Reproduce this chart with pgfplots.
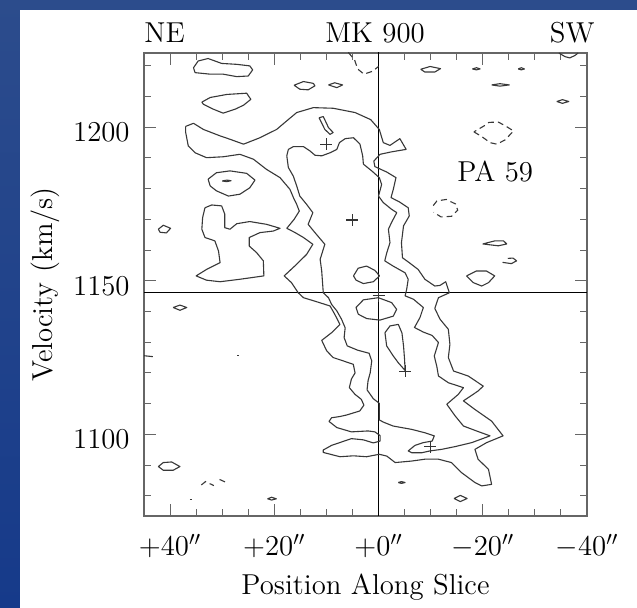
\documentclass[border=0pt]{standalone}
\usepackage{pgfplots}
\pgfplotsset{compat=1.18}
\pgfplotsset{cont/.style={black!78, line width=0.55pt, line join=round},
  dcont/.style={black!78, line width=0.55pt, dash pattern=on 3pt off 2pt}}
\begin{document}
\begin{tikzpicture}
\useasboundingbox (0,0) rectangle (318.5pt,304pt);
\shade[top color={rgb,255:red,44;green,76;blue,140}, bottom color={rgb,255:red,22;green,58;blue,138}] (0,0) rectangle (318.5pt,304pt);
\fill[white] (10pt,0) rectangle (318.5pt,299pt);
\begin{axis}[name=ax, at={(72pt,46pt)}, anchor=south west, scale only axis,
  width=221.5pt, height=231.5pt, clip=false,
  x dir=reverse, xmin=-40, xmax=45, ymin=1073.4, ymax=1224.2,
  xtick={-40,-20,0,20,40}, xticklabels={$-40''$,$-20''$,$+0''$,$+20''$,$+40''$},
  minor xtick={-35,-30,-25,-15,-10,-5,5,10,15,25,30,35},
  ytick={1100,1150,1200}, yticklabels={1100,1150,1200}, scaled y ticks=false,
  minor ytick={1080,1090,1110,1120,1130,1140,1160,1170,1180,1190,1210,1220},
  tick align=inside, major tick length=6pt, minor tick length=3.5pt,
  xtick pos=both, ytick pos=both, xticklabel pos=lower, yticklabel pos=left,
  tick style={black!60, line width=0.5pt},
  axis line style={black!60, line width=0.6pt},
  tick label style={font=\fontsize{14.4}{17}\selectfont, inner sep=0pt},
  xticklabel style={anchor=base, yshift=-20pt},
  yticklabel style={anchor=east, xshift=-7pt, yshift=-2.5pt},
]
% reference lines
\addplot[black, line width=0.6pt] coordinates {(-40,1146.1) (45,1146.1)};
\addplot[black, line width=0.6pt] coordinates {(0,1073.4) (0,1224.6)};
% outer contour
\addplot[cont] coordinates {(37.0,1200.3) (35.5,1201.3) (33.6,1199.3) (30.4,1197.2) (28.5,1196.1) (25.9,1194.5) (22.75,1196.6) (19.55,1199.3) (17.6,1202.1) (15.7,1204.8) (12.5,1206.4) (8.7,1206.2) (4.5,1204.8) (1.5,1202.5) (-0.15,1199.3) (-0.92,1195.0) (-2.2,1194.1) (-4.1,1196.3) (-5.3,1192.8) (-2.5,1192.0) (-0.3,1191.2) (0.9,1189.0) (0.7,1187.2) (-1.6,1185.4) (-3.35,1183.6) (-2.84,1179.8) (-2.4,1177.1) (-4.0,1175.7) (-5.7,1173.8) (-5.9,1171.1) (-4.8,1167.9) (-4.4,1162.4) (-4.6,1157.5) (-5.9,1155.9) (-7.6,1153.7) (-8.9,1150.5) (-10.8,1148.3) (-11.8,1148.5) (-12.9,1149.7) (-13.6,1146.1) (-11.5,1144.5) (-10.8,1141.0) (-11.8,1137.5) (-13.4,1134.2) (-13.7,1129.3) (-13.4,1125.0) (-14.4,1120.6) (-17.2,1119.0) (-20.1,1115.7) (-19.1,1114.1) (-16.3,1110.9) (-18.5,1108.1) (-21.7,1104.3) (-23.9,1099.5) (-20.75,1097.3) (-18.5,1095.1) (-19.1,1091.9) (-21.1,1088.6) (-21.7,1083.7) (-19.8,1083.2) (-18.5,1084.3) (-15.95,1087.5) (-14.0,1090.8) (-11.5,1091.9) (-8.9,1091.9) (-6.4,1091.3) (-3.2,1090.8) (-1.6,1092.9) (-0.15,1093.5) (2.3,1092.7) (4.8,1093.0) (7.4,1092.7) (10.6,1094.1) (10.6,1094.9) (9.0,1096.4) (5.2,1098.6) (2.9,1098.2) (1.0,1097.2) (-0.3,1097.8) (-0.3,1099.6) (0.7,1100.8) (2.0,1101.1) (5.2,1100.8) (8.0,1102.2) (9.5,1104.2) (9.0,1105.4) (7.4,1105.8) (6.1,1106.3) (3.6,1107.6) (2.8,1109.5) (3.3,1111.4) (4.5,1113.0) (5.6,1115.2) (5.2,1118.0) (4.5,1120.0) (4.84,1122.8) (6.75,1123.9) (8.7,1125.0) (9.95,1127.2) (10.9,1130.6) (9.0,1133.1) (7.4,1135.8) (8.4,1139.1) (9.3,1141.8) (11.9,1143.2) (14.4,1144.5) (15.4,1146.1) (16.7,1149.4) (18.1,1151.6) (15.7,1155.4) (13.8,1158.6) (12.6,1161.9) (14.4,1164.1) (16.0,1165.7) (17.6,1167.1) (16.2,1170.0) (15.2,1172.7) (15.7,1174.9) (16.3,1177.0) (17.0,1179.8) (18.9,1183.6) (21.5,1186.3) (24.0,1189.6) (26.6,1191.2) (29.8,1190.4) (33.0,1190.1) (35.2,1191.7) (36.5,1193.9) (37.0,1198.3) (37.0,1200.3)};
% inner contour
\addplot[cont] coordinates {(17.3,1192.8) (16.35,1193.7) (14.4,1193.7) (13.15,1192.3) (12.2,1190.9) (10.9,1190.7) (9.3,1191.7) (8.0,1192.8) (7.5,1195.0) (6.4,1196.3) (4.8,1196.6) (3.56,1194.5) (3.04,1190.7) (2.9,1188.0) (1.3,1185.8) (-0.15,1183.6) (-0.6,1181.4) (0.0,1177.6) (-0.9,1175.5) (-2.5,1173.3) (-3.5,1172.2) (-2.5,1169.0) (-1.9,1166.8) (-2.2,1162.4) (-1.6,1159.2) (-1.2,1156.5) (-2.8,1154.8) (-5.1,1152.6) (-5.7,1150.5) (-5.4,1147.2) (-5.1,1145.1) (-6.7,1144.0) (-8.6,1141.3) (-7.95,1138.0) (-6.9,1134.8) (-8.6,1133.3) (-10.3,1132.2) (-11.5,1129.9) (-10.7,1125.5) (-11.2,1122.0) (-11.5,1119.0) (-13.4,1116.8) (-16.3,1115.2) (-15.3,1113.0) (-13.1,1109.8) (-14.7,1106.0) (-16.3,1102.7) (-18.8,1101.1) (-21.4,1099.5) (-17.9,1097.3) (-14.7,1096.0) (-12.1,1095.1) (-9.9,1094.6) (-8.3,1094.0) (-6.4,1094.0) (-5.7,1094.6) (-7.0,1096.4) (-8.6,1097.3) (-10.3,1097.8) (-10.7,1099.5) (-8.9,1100.5) (-6.4,1101.6) (-2.8,1102.7) (-0.9,1104.0) (-0.15,1104.7) (-0.15,1110.1) (1.0,1111.6) (2.2,1114.5) (2.0,1117.5) (1.6,1120.0) (1.3,1123.9) (1.8,1126.4) (4.0,1127.4) (6.0,1128.8) (6.6,1131.5) (6.4,1134.7) (7.1,1137.5) (8.0,1140.2) (9.0,1142.3) (9.6,1144.5) (10.6,1146.1) (10.9,1153.2) (11.2,1157.0) (10.3,1161.9) (12.2,1165.7) (13.5,1168.4) (12.6,1172.2) (13.8,1174.9) (15.1,1177.6) (15.7,1180.9) (16.35,1184.1) (17.3,1186.9) (17.6,1190.7) (17.3,1192.8)};
% isolated closed contours
\addplot[cont] coordinates {(35.5,1219.4) (34.6,1221.6) (32.7,1222.4) (30.1,1220.8) (27.2,1220.5) (24.7,1220.0) (24.15,1218.7) (25.0,1216.7) (27.2,1216.5) (29.8,1217.3) (32.3,1217.3) (35.2,1217.8) (35.5,1219.4)};
\addplot[cont] coordinates {(33.9,1208.2) (32.3,1209.7) (29.1,1210.7) (25.3,1211.1) (24.5,1209.1) (25.9,1207.2) (27.5,1205.9) (29.8,1204.6) (31.7,1205.9) (33.6,1207.5) (33.9,1208.2)};
\addplot[cont] coordinates {(16.2,1213.7) (14.4,1214.9) (12.5,1214.3) (12.2,1213.5) (13.5,1212.2) (15.1,1212.4) (16.2,1213.7)};
\addplot[cont] coordinates {(9.6,1213.8) (8.4,1214.5) (6.9,1213.8) (8.0,1212.9) (9.6,1213.8)};
\addplot[cont] coordinates {(11.4,1203.1) (10.6,1203.5) (9.6,1199.9) (8.7,1198.3) (9.3,1197.7) (10.3,1199.3) (11.4,1203.1)};
\addplot[cont] coordinates {(32.7,1183.1) (31.1,1185.2) (28.5,1185.8) (25.3,1185.0) (23.7,1182.8) (24.7,1180.3) (26.6,1178.2) (28.8,1177.6) (31.1,1179.3) (32.3,1180.9) (32.7,1183.1)};
\addplot[cont] coordinates {(30.0,1182.5) (29.1,1182.8) (28.3,1182.6) (29.1,1182.3) (30.0,1182.5)};
\addplot[cont] coordinates {(33.3,1173.8) (32.0,1174.7) (30.1,1174.4) (29.5,1171.7) (29.5,1167.3) (28.5,1166.8) (27.2,1168.6) (24.7,1169.3) (21.5,1168.4) (18.9,1167.1) (20.2,1166.2) (22.75,1165.7) (24.8,1164.1) (24.8,1161.3) (23.4,1159.2) (22.1,1156.5) (22.0,1151.6) (26.6,1150.5) (30.4,1149.7) (33.0,1150.2) (35.0,1151.6) (33.0,1153.7) (30.4,1155.9) (30.7,1159.7) (31.4,1163.0) (33.3,1164.1) (33.9,1166.8) (33.75,1170.6) (33.3,1173.8)};
\addplot[cont] coordinates {(42.25,1166.8) (41.3,1168.1) (39.9,1167.1) (40.7,1165.6) (41.9,1165.8) (42.25,1166.8)};
\addplot[cont] coordinates {(39.4,1141.3) (38.1,1142.1) (36.8,1141.3) (38.1,1140.4) (39.4,1141.3)};
\addplot[cont] coordinates {(4.8,1151.6) (3.9,1154.1) (2.3,1154.8) (0.7,1153.4) (-0.2,1151.6) (1.0,1149.7) (2.9,1149.1) (4.3,1150.2) (4.8,1151.6)};
\addplot[cont] coordinates {(4.32,1141.3) (2.91,1143.8) (0.04,1144.5) (-2.52,1142.9) (-3.48,1140.7) (-2.84,1138.5) (-0.28,1137.2) (2.27,1137.7) (3.87,1139.1) (4.32,1141.3)};
\addplot[cont] coordinates {(-1.24,1133.1) (-2.2,1135.3) (-3.8,1135.8) (-4.5,1133.0) (-4.8,1128.8) (-5.0,1124.4) (-5.1,1120.8) (-3.8,1123.3) (-2.84,1125.5) (-1.56,1128.8) (-1.24,1133.1)};
\addplot[cont] coordinates {(-8.1,1218.9) (-9.9,1219.8) (-11.9,1219.1) (-10.8,1218.0) (-8.9,1218.0) (-8.1,1218.9)};
\addplot[cont] coordinates {(-18.0,1219.0) (-18.8,1219.4) (-19.5,1219.0) (-18.8,1218.7) (-18.0,1219.0)};
\addplot[cont] coordinates {(-26.8,1219.0) (-27.4,1219.4) (-28.0,1219.0) (-27.4,1218.7) (-26.8,1219.0)};
\addplot[cont] coordinates {(-21.7,1213.8) (-23.3,1214.2) (-25.1,1213.8) (-23.3,1213.4) (-21.7,1213.8)};
\addplot[cont] coordinates {(-34.2,1208.4) (-35.3,1209.0) (-36.5,1208.4) (-35.3,1207.8) (-34.2,1208.4)};
\addplot[cont] coordinates {(-34.6,1224.2) (-35.8,1223.0) (-36.7,1222.6) (-37.7,1223.4) (-38.3,1224.2)};
\addplot[cont] coordinates {(-20.0,1162.0) (-22.3,1163.0) (-24.0,1163.0) (-24.6,1162.0) (-23.0,1161.4) (-20.0,1162.0)};
\addplot[cont] coordinates {(-23.8,1156.0) (-25.5,1155.6) (-26.5,1156.5) (-25.8,1157.4) (-24.8,1157.3)};
\addplot[cont] coordinates {(-16.9,1151.6) (-18.8,1153.2) (-20.7,1153.2) (-22.3,1151.6) (-21.1,1149.4) (-19.8,1148.3) (-18.2,1149.4) (-16.9,1151.6)};
\addplot[cont] coordinates {(42.25,1089.5) (41.3,1090.8) (39.7,1091.0) (38.1,1089.5) (39.4,1088.3) (41.3,1088.3) (42.25,1089.5)};
\addplot[cont] coordinates {(21.3,1079.0) (20.5,1079.5) (19.6,1079.0) (20.5,1078.6) (21.3,1079.0)};
\addplot[cont] coordinates {(-3.8,1084.3) (-4.4,1084.6) (-5.1,1084.3) (-4.4,1084.0) (-3.8,1084.3)};
\addplot[cont] coordinates {(-14.5,1079.1) (-15.7,1080.1) (-17.0,1079.1) (-15.7,1078.1) (-14.5,1079.1)};
\addplot[cont] coordinates {(45,1125.6) (43.3,1125.3)};
\addplot[cont] coordinates {(27.1,1125.7) (26.7,1125.7)};
\addplot[cont] coordinates {(36.2,1078.8) (35.8,1078.8)};
% dashed (negative) contours
\addplot[dcont] coordinates {(5.8,1224.4) (4.6,1222.0) (4.0,1219.0) (2.8,1217.3) (1.2,1218.2) (0.0,1219.8)};
\addplot[dcont] coordinates {(-18.3,1198.5) (-19.8,1197.0) (-21.4,1195.0) (-22.7,1194.5) (-24.3,1195.9) (-25.9,1198.8) (-24.6,1200.2) (-23.0,1201.7) (-21.2,1201.6) (-20.4,1200.6) (-18.3,1198.5)};
\addplot[dcont] coordinates {(-10.5,1174.5) (-11.2,1176.0) (-13.0,1176.5) (-14.8,1175.0) (-15.2,1173.0) (-14.0,1171.0) (-12.0,1170.8) (-10.6,1172.3)};
\addplot[dcont] coordinates {(34.0,1083.5) (33.2,1084.6) (31.6,1083.3)};
\addplot[dcont] coordinates {(30.5,1085.3) (28.8,1084.0)};
% crosses
\addplot[only marks, mark=+, mark size=3pt, black!80, mark options={line width=0.55pt}] coordinates {(10.0,1194.5) (5.0,1169.8) (0.0,1145.2) (-5.1,1120.6) (-9.9,1096.0)};
\node[anchor=base, inner sep=0pt, font=\fontsize{14.4}{17}\selectfont] at (axis cs:-22.4,1182.4) {PA 59};
\end{axis}
\begin{scope}[font=\fontsize{14.4}{17}\selectfont]
\node[anchor=base west, inner sep=0pt] at ([yshift=5pt]ax.north west) {NE};
\node[anchor=base, inner sep=0pt] at ([xshift=115.5pt,yshift=5pt]ax.north west) {MK 900};
\node[anchor=base east, inner sep=0pt] at ([xshift=4pt,yshift=5pt]ax.north east) {SW};
\node[rotate=90, inner sep=0pt] at ([xshift=-49.5pt]ax.west) {Velocity (km/s)};
\node[inner sep=0pt] at ([yshift=-35.5pt]ax.south) {Position Along Slice};
\end{scope}
\end{tikzpicture}
\end{document}
